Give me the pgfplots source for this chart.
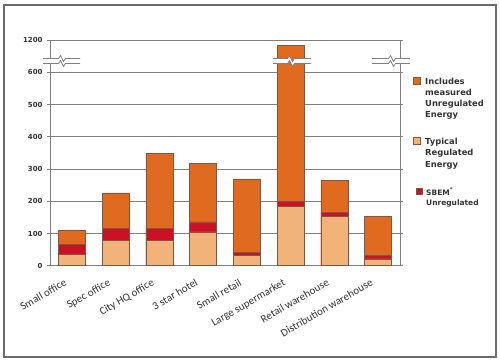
\documentclass[border=0pt]{standalone}
\usepackage{pgfplots}
\pgfplotsset{compat=1.18}
\usepackage{fontspec}
\setmainfont{DejaVu Sans}
\newfontfamily\carlito{Carlito}
\definecolor{unreg}{HTML}{E06A1F}
\definecolor{regl}{HTML}{F2B37A}
\definecolor{sbem}{HTML}{CC1126}
\definecolor{edge}{HTML}{7A5A44}
\definecolor{gridc}{HTML}{7F7F7F}
\definecolor{txt}{HTML}{333333}
\newcommand{\brk}[3]{%
  \fill[white] (#1,58.5) -- ({#2-3.5},58.5) -- ({#2-1.5},55.5) -- ({#2+1.5},61.5) -- ({#2+3.5},58.5) -- (#3,58.5)
    -- (#3,63.5) -- ({#2+3.5},63.5) -- ({#2+1.5},66.5) -- ({#2-1.5},60.5) -- ({#2-3.5},63.5) -- (#1,63.5) -- cycle;
  \draw[gridc, line width=0.7bp] (#1,58.5) -- ({#2-3.5},58.5) -- ({#2-1.5},55.5) -- ({#2+1.5},61.5) -- ({#2+3.5},58.5) -- (#3,58.5);
  \draw[gridc, line width=0.7bp] (#1,63.5) -- ({#2-3.5},63.5) -- ({#2-1.5},60.5) -- ({#2+1.5},66.5) -- ({#2+3.5},63.5) -- (#3,63.5);
}
\begin{document}
\begin{tikzpicture}
\begin{axis}[
  scale only axis,
  width=350bp, height=225.7bp,
  xmin=-0.5, xmax=7.5,
  ymin=0, ymax=1200,
  y coord trafo/.code={\pgfmathparse{ifthenelse(#1>600,600+(#1-600)/6,#1)}},
  y coord inv trafo/.code={\pgfmathparse{ifthenelse(#1>600,600+(#1-600)*6,#1)}},
  ytick={0,100,200,300,400,500,600,1200},
  yticklabels={0,100,200,300,400,500,600,1200},
  xtick={0,...,7},
  xticklabels={Small office,Spec office,City HQ office,3 star hotel,Small retail,Large supermarket,Retail warehouse,Distribution warehouse},
  minor xtick={-0.5,0.5,...,7.5},
  tick align=outside,
  major tick length=3bp,
  minor tick length=5bp,
  xtick style={draw=none},
  minor tick style={draw=gridc, line width=0.7bp},
  ytick style={draw=gridc, line width=0.7bp},
  ymajorgrids=true,
  grid style={gridc, line width=0.7bp},
  axis line style={gridc, line width=0.7bp},
  /pgf/number format/assume math mode=true,
  yticklabel style={font=\fontsize{7}{8}\selectfont\bfseries, text=txt, xshift=-1bp},
  xticklabel style={font=\carlito\fontsize{11}{13}\selectfont, text=txt, xshift=-8bp, yshift=-8bp, rotate=30, anchor=north east, inner sep=1bp},
  axis on top=false,
]
\addplot[ybar, bar width=27bp, bar shift=0pt, fill=unreg, draw=edge, line width=0.6bp]
  coordinates {(0,111) (1,226) (2,349) (3,318) (4,269) (5,1107) (6,265) (7,152)};
\addplot[ybar, bar width=27bp, bar shift=0pt, fill=sbem, draw=edge, line width=0.6bp]
  coordinates {(0,66) (1,115) (2,115) (3,136) (4,42) (5,199) (6,165) (7,31)};
\addplot[ybar, bar width=27bp, bar shift=0pt, fill=regl, draw=edge, line width=0.6bp]
  coordinates {(0,35) (1,78) (2,78) (3,105) (4,32) (5,183) (6,152) (7,21)};
\end{axis}
\begin{scope}[x=1bp, y=-1bp, shift={(-50bp,265.7bp)}]
  \brk{43}{62}{80}
  \brk{273}{291}{311}
  \brk{372}{392}{410}
  \draw[gray!85!black, line width=1.3bp] (4,5) rectangle (496,357);
  % legend
  \filldraw[fill=unreg, draw=edge, line width=0.5bp] (413.5,77.5) rectangle (420.5,84.5);
  \filldraw[fill=regl, draw=edge, line width=0.5bp] (413.5,137.5) rectangle (420.5,144.5);
  \filldraw[fill=sbem, draw=edge, line width=0.5bp] (416,188.5) rectangle (422,194.5);
  \begin{scope}[every node/.style={anchor=base west, inner sep=0pt, text=txt, font=\fontsize{8.4}{10}\selectfont\bfseries}]
    \node at (425,84) {Includes};
    \node at (425,95) {measured};
    \node at (425,106) {Unregulated};
    \node at (425,117.5) {Energy};
    \node at (425,144) {Typical};
    \node at (425,155.5) {Regulated};
    \node at (425,167) {Energy};
    \node[font=\fontsize{7.5}{9}\selectfont\bfseries] at (426,195) {SBEM\textsuperscript{*}};
    \node[font=\fontsize{7.5}{9}\selectfont\bfseries] at (426,205.5) {Unregulated};
  \end{scope}
  \pgfresetboundingbox
  \path[use as bounding box] (0,0) rectangle (500,362);
\end{scope}
\end{tikzpicture}
\end{document}
